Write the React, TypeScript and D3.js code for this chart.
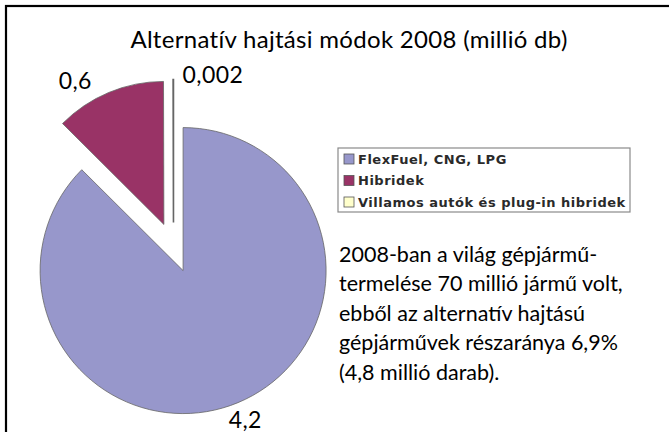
import { useRef, useEffect } from "react";
import * as d3 from "d3";

const categories = ["FlexFuel, CNG, LPG", "Hibridek", "Villamos autók és plug-in hibridek"];
const values = [4.2, 0.6, 0.002];
const valueLabels = ["4,2", "0,6", "0,002"];
const colors = ["#9797cb", "#993366", "#ffffcc"];
const title = "Alternatív hajtási módok 2008 (millió db)";
const noteLines = [
  "2008-ban a világ gépjármű-",
  "termelése 70 millió jármű volt,",
  "ebből az alternatív hajtású",
  "gépjárművek részaránya 6,9%",
  "(4,8 millió darab).",
];

const FONT = "Lato, 'Open Sans', sans-serif";

const App = () => {
  const svgRef = useRef(null);

  useEffect(() => {
    d3.select(svgRef.current).selectAll("*").remove();

    const width = 669;
    const height = 432;
    const svg = d3.select(svgRef.current).attr("width", width).attr("height", height);

    // frame (only top/left edges fall inside the picture)
    svg
      .append("rect")
      .attr("x", 6)
      .attr("y", 6)
      .attr("width", width + 20)
      .attr("height", height + 20)
      .attr("fill", "white")
      .attr("stroke", "#000")
      .attr("stroke-width", 2.2);

    svg
      .append("text")
      .attr("x", 349)
      .attr("y", 48)
      .attr("text-anchor", "middle")
      .style("font-family", FONT)
      .style("font-size", "24px")
      .style("letter-spacing", "0.3px")
      .text(title);

    const radius = 143;
    const explode = 25;
    const cx = 173.5;
    const cy = 247.5;

    const pie = d3
      .pie<number>()
      .value((d) => d)
      .sort(null);

    const arc = d3.arc<d3.PieArcDatum<number>>().innerRadius(0).outerRadius(radius);

    const g = svg.append("g").attr("transform", `translate(${cx},${cy})`);
    const arcsData = pie(values);

    const offset = (d, dist, shift = 0) => {
      const a = (d.startAngle + d.endAngle) / 2 + shift;
      return [Math.sin(a) * dist, -Math.cos(a) * dist];
    };

    g.selectAll("path")
      .data(arcsData)
      .enter()
      .append("path")
      .attr("d", arc)
      .attr("transform", (d) => `translate(${offset(d, explode)})`)
      .attr("fill", (_, i) => colors[i])
      .attr("stroke", "#666")
      .attr("stroke-width", (_, i) => (i === 2 ? 1.6 : 0.8))
      .attr("stroke-linejoin", "miter");

    // label placement tweaks (degrees) to follow the original's best-fit placement
    const labelShift = [0, -9, 15];
    const labelDist = [162, 169, 153];

    g.selectAll("text.lbl")
      .data(arcsData)
      .enter()
      .append("text")
      .attr("class", "lbl")
      .attr("transform", (d, i) => {
        const [ex, ey] = offset(d, explode);
        const [lx, ly] = offset(d, labelDist[i], (labelShift[i] * Math.PI) / 180);
        return `translate(${ex + lx},${ey + ly})`;
      })
      .attr("text-anchor", "middle")
      .attr("dy", "0.36em")
      .style("font-family", FONT)
      .style("font-size", "23px")
      .style("letter-spacing", "0.4px")
      .text((_, i) => valueLabels[i]);

    // legend
    const legend = svg.append("g").attr("transform", "translate(338,148)");
    legend
      .append("rect")
      .attr("width", 292)
      .attr("height", 64)
      .attr("fill", "white")
      .attr("stroke", "#8a8a8a")
      .attr("stroke-width", 1.2);

    const rowY = d3.scalePoint<string>().domain(categories).range([11, 54]);
    const items = legend
      .selectAll("g.item")
      .data(categories)
      .enter()
      .append("g")
      .attr("class", "item")
      .attr("transform", (d) => `translate(6,${rowY(d)})`);
    items
      .append("rect")
      .attr("x", 0)
      .attr("y", -5)
      .attr("width", 10)
      .attr("height", 10)
      .attr("fill", (_, i) => colors[i])
      .attr("stroke", "#555")
      .attr("stroke-width", 0.8);
    items
      .append("text")
      .attr("x", 14)
      .attr("dy", "0.36em")
      .style("font-family", "'DejaVu Sans', sans-serif")
      .style("font-size", "13px")
      .style("letter-spacing", "0.5px")
      .style("font-weight", "bold")
      .style("fill", "#2a2a2a")
      .text((d) => d);

    // side note
    const note = svg
      .append("text")
      .attr("x", 339)
      .attr("y", 262)
      .style("font-family", FONT)
      .style("font-size", "21.5px");
    note
      .selectAll("tspan")
      .data(noteLines)
      .enter()
      .append("tspan")
      .attr("x", 339)
      .attr("dy", (_, i) => (i === 0 ? 0 : 29.4))
      .text((d) => d);
  }, []);

  return (
    <div style={{ position: "absolute", left: 0, top: 0 }}>
      <svg ref={svgRef} style={{ display: "block" }}></svg>
    </div>
  );
};

export default App;
